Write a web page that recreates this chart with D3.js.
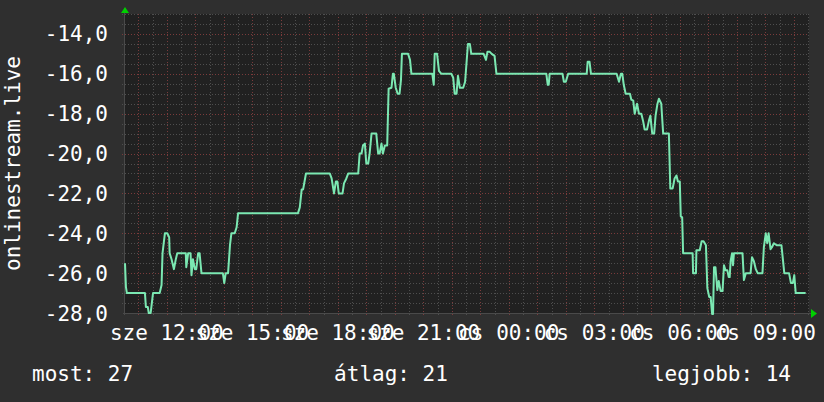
<!DOCTYPE html>
<html>
<head>
<meta charset="utf-8">
<script src="https://cdn.jsdelivr.net/npm/d3@7"></script>
<style>
  body { margin: 0; background: #2f2f2f; }
  svg { display: block; }
</style>
</head>
<body>
<div id="graph"></div>
<script>
// Data ////////////////////////////////////////////////////////////////////////
// sze (Wed) 10:32 -> cs (Thu) 10:32, times roll over past midnight
const times = [
  "10:32", "10:34", "10:36", "11:14", "11:16", "11:20", "11:22", "11:26", "11:28", "11:31",
  "11:45", "11:49", "11:51", "11:56", "12:01", "12:05", "12:06", "12:10", "12:15", "12:19",
  "12:22", "12:40", "12:41", "12:45", "12:50", "12:52", "12:55", "12:59", "13:02", "13:06",
  "13:09", "13:13", "13:58", "14:01", "14:04", "14:09", "14:13", "14:16", "14:23", "14:27",
  "14:30", "16:36", "16:40", "16:44", "16:47", "16:53", "17:43", "17:47", "17:52", "17:56",
  "17:59", "18:02", "18:10", "18:13", "18:18", "18:22", "18:43", "18:46", "18:50", "18:53",
  "18:57", "19:00", "19:04", "19:07", "19:11", "19:21", "19:25", "19:28", "19:32", "19:35",
  "19:39", "19:44", "19:47", "19:53", "19:56", "19:58", "20:02", "20:06", "20:10", "20:13",
  "20:15", "20:28", "20:32", "20:35", "21:19", "21:22", "21:24", "21:29", "21:33", "21:38",
  "21:59", "22:03", "22:06", "22:10", "22:13", "22:17", "22:24", "22:28", "22:31", "22:34",
  "22:38", "22:41", "23:07", "23:12", "23:15", "23:20", "23:24", "23:30", "23:34", "01:19",
  "01:22", "01:24", "01:26", "01:53", "01:56", "02:00", "02:05", "02:44", "02:46", "02:50",
  "02:53", "03:47", "03:52", "03:56", "03:59", "04:02", "04:06", "04:15", "04:18", "04:22",
  "04:25", "04:30", "04:34", "04:39", "04:43", "04:46", "04:51", "04:55", "04:58", "05:02",
  "05:06", "05:09", "05:13", "05:16", "05:21", "05:25", "05:37", "05:40", "05:45", "05:49",
  "05:53", "05:56", "06:00", "06:02", "06:05", "06:07", "06:27", "06:28", "06:34", "06:35",
  "06:42", "06:46", "06:50", "06:55", "06:58", "07:02", "07:05", "07:08", "07:10", "07:12",
  "07:15", "07:19", "07:22", "07:26", "07:30", "07:33", "07:36", "07:40", "07:43", "07:45",
  "07:47", "07:50", "07:52", "07:54", "08:12", "08:15", "08:19", "08:29", "08:32", "08:36",
  "08:40", "08:44", "08:54", "08:57", "09:01", "09:04", "09:07", "09:11", "09:14", "09:18",
  "09:24", "09:34", "09:40", "09:50", "09:54", "09:58", "10:01", "10:04", "10:25"
];

const values = [
  -25.5, -26.7, -27, -27, -27.7, -27.7, -28, -28, -27.6, -27,
  -27, -26.6, -25, -24, -24, -24.2, -25, -25.3, -25.8, -25.3,
  -25, -25, -25.7, -25, -25, -26.1, -25.3, -25.8, -25.8, -25,
  -25, -26, -26, -26.5, -26, -26, -24.6, -24, -24, -23.7,
  -23, -23, -22.7, -21.8, -21.8, -21, -21, -21.25, -22, -21.4,
  -21.4, -22, -22, -21.5, -21.25, -21, -21, -20, -20, -19.6,
  -19.5, -20.5, -20.5, -20, -19, -19, -20, -20, -19.5, -20,
  -19.6, -19.6, -16.75, -16.7, -16, -16, -16.7, -17, -17, -16.3,
  -15, -15, -15.3, -16, -16, -16.55, -15, -15, -15.85, -16,
  -16, -16.2, -17, -17, -16.1, -16.7, -16.7, -16.4, -15.45, -14.5,
  -14.5, -15, -15, -15.3, -14.9, -14.9, -15, -15.1, -16, -16,
  -16.55, -16.55, -16, -16, -16.4, -16.4, -16, -16, -15.4, -15.4,
  -16, -16, -16.4, -16, -16, -16.55, -17, -17, -17.3, -17.35,
  -18, -17.5, -18, -18, -18.4, -18.8, -18.8, -18.35, -18.1, -19,
  -19, -18.1, -17.5, -17.25, -17.5, -19, -19, -21.75, -21.75, -21.25,
  -21.1, -21.4, -21.4, -23.15, -23.2, -25, -25, -26, -26, -24.85,
  -24.85, -24.4, -24.4, -24.6, -26.75, -27.2, -27.2, -28.05, -28.05, -25.7,
  -25.7, -26.85, -26.4, -26.9, -26.9, -25.6, -25.85, -25.85, -26.2, -26.2,
  -25.4, -25, -25.6, -25, -25, -26.35, -26, -26, -25.2, -25.4,
  -25.8, -26, -26, -24.7, -24, -24.5, -24, -24.8, -24.7, -24.5,
  -24.6, -24.6, -26, -26, -26.5, -26.5, -26.1, -27, -27
];

const yTicks = [-28, -26, -24, -22, -20, -18, -16, -14];
const dayNames = ["v", "h", "k", "sze", "cs", "p", "szo"];
const axisTitle = "onlinestream.live";
const legendItems = ["most: 27", "átlag: 21", "legjobb: 14"];

// Constants ///////////////////////////////////////////////////////////////////
const svgWidth = 824;
const svgHeight = 402;
const plot = { left: 125, right: 809, top: 14, bottom: 313 };
const font = "'DejaVu Sans Mono', monospace";
const startDate = new Date(2024, 8, 18, 10, 32);
const endDate = new Date(2024, 8, 19, 10, 32);

const huFormat = d3.formatLocale({
  decimal: ",",
  thousands: " ",
  grouping: [3],
  currency: ["", " Ft"],
  minus: "-"
}).format(".1f");

function parseSeries() {
  let dayOffset = 0;
  let prev = -1;
  return times.map((t, i) => {
    const [h, m] = t.split(":").map(Number);
    const mins = h * 60 + m;
    if (mins < prev) dayOffset += 1;
    prev = mins;
    return { date: new Date(2024, 8, 18 + dayOffset, h, m), value: values[i] };
  });
}

const data = parseSeries();

// Containers //////////////////////////////////////////////////////////////////
const svg = d3
  .select("#graph")
  .append("svg")
  .attr("width", svgWidth)
  .attr("height", svgHeight)
  .style("background", "#2f2f2f");

const x = d3.scaleTime().domain([startDate, endDate]).range([plot.left, plot.right]);
const y = d3.scaleLinear().domain([-28, -13]).range([plot.bottom, plot.top]);

svg
  .append("rect")
  .attr("x", plot.left)
  .attr("y", plot.top)
  .attr("width", plot.right - plot.left)
  .attr("height", plot.bottom - plot.top)
  .style("fill", "#212121");

// Grid ////////////////////////////////////////////////////////////////////////
const grid = svg.append("g").attr("shape-rendering", "crispEdges");

const halfHours = x.ticks(d3.timeMinute.every(30));
grid
  .selectAll(".vgrid")
  .data(halfHours)
  .join("line")
  .attr("class", "vgrid")
  .attr("x1", d => Math.round(x(d)) + 0.5)
  .attr("x2", d => Math.round(x(d)) + 0.5)
  .attr("y1", plot.top)
  .attr("y2", plot.bottom + 3)
  .style("stroke", d => (d.getMinutes() === 0 ? "#7a3b3b" : "#4e4e4e"))
  .style("stroke-dasharray", "1,2");

const halfUnits = d3.range(-27.5, -12.9, 0.5);
grid
  .selectAll(".hgrid")
  .data(halfUnits)
  .join("line")
  .attr("class", "hgrid")
  .attr("x1", plot.left - 3)
  .attr("x2", plot.right)
  .attr("y1", d => Math.round(y(d)) + 0.5)
  .attr("y2", d => Math.round(y(d)) + 0.5)
  .style("stroke", d => (yTicks.includes(d) ? "#7a3b3b" : "#4e4e4e"))
  .style("stroke-dasharray", "1,2");

// Axes lines
grid
  .append("line")
  .attr("x1", plot.left - 2)
  .attr("x2", plot.right + 2)
  .attr("y1", plot.bottom + 0.5)
  .attr("y2", plot.bottom + 0.5)
  .style("stroke", "#4a4a4a");

grid
  .append("line")
  .attr("x1", plot.left - 0.5)
  .attr("x2", plot.left - 0.5)
  .attr("y1", plot.top - 2)
  .attr("y2", plot.bottom + 2)
  .style("stroke", "#4a4a4a");

// Arrows
svg
  .append("path")
  .attr("d", `M${plot.left - 4},${plot.top - 1} L${plot.left + 4},${plot.top - 1} L${plot.left},${plot.top - 7} Z`)
  .style("fill", "#00d000");

svg
  .append("path")
  .attr("d", `M${plot.right + 2},${plot.bottom - 4} L${plot.right + 2},${plot.bottom + 5} L${plot.right + 8},${plot.bottom + 0.5} Z`)
  .style("fill", "#00d000");

// Line ////////////////////////////////////////////////////////////////////////
const line = d3
  .line()
  .x(d => x(d.date))
  .y(d => y(d.value));

svg
  .append("path")
  .datum(data)
  .attr("d", line)
  .style("fill", "none")
  .style("stroke", "#7be8b2")
  .style("stroke-width", 2)
  .style("stroke-linejoin", "round");

// Labels //////////////////////////////////////////////////////////////////////
const labels = svg
  .append("g")
  .style("font-family", font)
  .style("font-size", "21px")
  .style("fill", "#ffffff");

labels
  .selectAll(".ylabel")
  .data(yTicks)
  .join("text")
  .attr("class", "ylabel")
  .attr("x", 108)
  .attr("y", d => y(d))
  .attr("dy", "0.36em")
  .attr("text-anchor", "end")
  .text(d => huFormat(d));

labels
  .selectAll(".xlabel")
  .data(x.ticks(d3.timeHour.every(3)))
  .join("text")
  .attr("class", "xlabel")
  .attr("x", d => x(d))
  .attr("y", 339.5)
  .attr("text-anchor", "middle")
  .text(d => `${dayNames[d.getDay()]} ${d3.timeFormat("%H:%M")(d)}`);

labels
  .append("text")
  .attr("transform", `translate(20, ${(plot.top + plot.bottom) / 2}) rotate(-90)`)
  .attr("text-anchor", "middle")
  .text(axisTitle);

// Legend
const legendPos = [
  { x: 32, anchor: "start" },
  { x: 391, anchor: "middle" },
  { x: 791, anchor: "end" }
];

labels
  .selectAll(".legend")
  .data(legendItems)
  .join("text")
  .attr("class", "legend")
  .attr("x", (d, i) => legendPos[i].x)
  .attr("y", 381)
  .attr("text-anchor", (d, i) => legendPos[i].anchor)
  .text(d => d);
</script>
</body>
</html>
